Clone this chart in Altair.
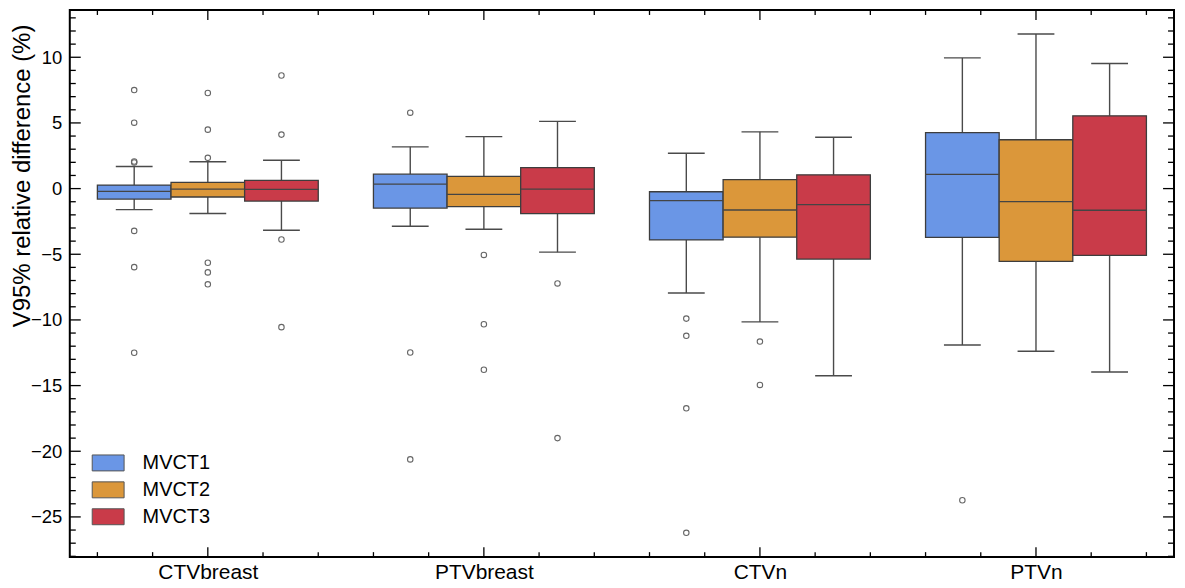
import altair as alt
import pandas as pd

# ---------------- data ----------------
categories = ["CTVbreast", "PTVbreast", "CTVn", "PTVn"]
groups = ["MVCT1", "MVCT2", "MVCT3"]
colors = ["#6A96E6", "#DB973A", "#C93B49"]

# one entry per box, order: category-major, then MVCT1..3
q1 = [-0.80, -0.64, -0.95,
      -1.48, -1.37, -1.90,
      -3.91, -3.70, -5.37,
      -3.72, -5.54, -5.09]
median = [-0.21, -0.04, -0.06,
          0.34, -0.44, -0.04,
          -0.92, -1.63, -1.22,
          1.08, -0.99, -1.65]
q3 = [0.27, 0.47, 0.62,
      1.10, 0.93, 1.59,
      -0.24, 0.68, 1.05,
      4.26, 3.72, 5.54]
whisker_lo = [-1.60, -1.90, -3.17,
              -2.87, -3.10, -4.84,
              -7.95, -10.15, -14.25,
              -11.91, -12.39, -13.96]
whisker_hi = [1.68, 2.04, 2.16,
              3.18, 3.96, 5.12,
              2.69, 4.32, 3.91,
              9.95, 11.77, 9.52]
outliers = [
    [7.50, 5.02, 2.06, 1.99, -3.22, -5.98, -12.50],
    [7.28, 4.49, 2.34, -5.65, -6.38, -7.29],
    [8.61, 4.11, -3.88, -10.55],
    [5.78, -12.48, -20.62],
    [-5.05, -10.33, -13.79],
    [-7.22, -19.00],
    [-9.90, -11.21, -16.73, -26.21],
    [-11.65, -14.95],
    [],
    [-23.73],
    [],
    [],
]

# tick positions for the framed axes
y_major = [-25, -20, -15, -10, -5, 0, 5, 10]
y_minor = [v for v in range(-28, 14) if v % 5 != 0]
x_major = [0, 1, 2, 3]
x_minor = [round(-0.4 + 0.2 * i, 1) for i in range(20) if i % 5 != 2]

# ---------------- layout ----------------
W, H = 1108, 549
STEP = 0.2667      # distance between boxes inside a group
HALF = STEP / 2    # half box width
CAP = STEP / 4     # half cap width
FONT = "Liberation Sans"

rows = []
for ci, cat in enumerate(categories):
    for gi, grp in enumerate(groups):
        k = ci * 3 + gi
        pos = ci + (gi - 1) * STEP
        rows.append(dict(category=cat, group=grp, pos=pos,
                         xl=pos - HALF, xr=pos + HALF,
                         cl=pos - CAP, cr=pos + CAP,
                         q1=q1[k], med=median[k], q3=q3[k],
                         lo=whisker_lo[k], hi=whisker_hi[k]))
boxes = pd.DataFrame(rows)

orows = []
for k, vals in enumerate(outliers):
    pos = boxes.loc[k, "pos"]
    for v in vals:
        orows.append(dict(pos=pos, v=v, group=boxes.loc[k, "group"]))
outs = pd.DataFrame(orows)

xscale = alt.Scale(domain=[-0.5, 3.5], nice=False, zero=False)
yscale = alt.Scale(domain=[-28.06, 13.60], nice=False, zero=False)

label_map = "[" + ",".join("'" + c + "'" for c in categories) + "][datum.value]"

x_axis = alt.Axis(values=x_major, labelExpr=label_map, ticks=False, tickSize=0,
                  domain=False, grid=False, title="", labelFontSize=21,
                  labelPadding=4, labelColor="black", labelFont=FONT,
                  labelOverlap=False, labelFlush=False)
y_axis = alt.Axis(values=y_major,
                  labelExpr="datum.value < 0 ? '\u2212' + format(-datum.value, 'd') : format(datum.value, 'd')",
                  ticks=False, tickSize=0, domain=False, grid=False,
                  labelFontSize=18.5, labelPadding=8, labelColor="black", labelFont=FONT,
                  title="V95% relative difference (%)", titleFontSize=24,
                  titleFontWeight="normal", titleColor="black", titleFont=FONT,
                  titleAngle=270, titleAlign="center", titleBaseline="middle",
                  titleX=-47, titleY=166)

def X(field):
    return alt.X(field, scale=xscale, axis=x_axis)

def Y(field):
    return alt.Y(field, scale=yscale, axis=y_axis)

LINE = "#4a4a4a"

base = alt.Chart(boxes)

whisk_up = base.mark_rule(color=LINE, strokeWidth=1.4).encode(
    x=X("pos:Q"), y=Y("q3:Q"), y2="hi:Q")
whisk_dn = base.mark_rule(color=LINE, strokeWidth=1.4).encode(
    x=X("pos:Q"), y=Y("lo:Q"), y2="q1:Q")
cap_hi = base.mark_rule(color=LINE, strokeWidth=1.4).encode(
    x=X("cl:Q"), x2="cr:Q", y=Y("hi:Q"))
cap_lo = base.mark_rule(color=LINE, strokeWidth=1.4).encode(
    x=X("cl:Q"), x2="cr:Q", y=Y("lo:Q"))

legend = alt.Legend(orient="none", legendX=22, legendY=438, title=None,
                    symbolType="M-1,-0.5H1V0.5H-1Z", symbolSize=1024,
                    symbolStrokeColor="#555555", symbolStrokeWidth=1,
                    symbolOpacity=1,
                    labelFontSize=20, labelFont=FONT, labelColor="black",
                    labelOffset=18, rowPadding=0, padding=0)

box = base.mark_bar(stroke="#3d3d3d", strokeWidth=1.3, opacity=1).encode(
    x=X("xl:Q"), x2="xr:Q",
    y=Y("q1:Q"), y2="q3:Q",
    color=alt.Color("group:N", scale=alt.Scale(domain=groups, range=colors),
                    legend=legend))

med = base.mark_rule(color="#444444", strokeWidth=1.4).encode(
    x=X("xl:Q"), x2="xr:Q", y=Y("med:Q"))

pts = alt.Chart(outs).mark_point(shape="circle", filled=False, size=30,
                                 color="#666666", strokeWidth=1.1, opacity=1).encode(
    x=X("pos:Q"), y=Y("v:Q"))

# frame ticks (inward), positioned through the scales
def yticks(vals, length):
    d = pd.DataFrame({"v": vals})
    left = alt.Chart(d).mark_rule(color="black", strokeWidth=1.3).encode(
        y=Y("v:Q"), x=alt.value(0), x2=alt.value(length))
    right = alt.Chart(d).mark_rule(color="black", strokeWidth=1.3).encode(
        y=Y("v:Q"), x=alt.value(W - length), x2=alt.value(W))
    return [left, right]

def xticks(vals, length):
    d = pd.DataFrame({"v": vals})
    top = alt.Chart(d).mark_rule(color="black", strokeWidth=1.3).encode(
        x=X("v:Q"), y=alt.value(0), y2=alt.value(length))
    bottom = alt.Chart(d).mark_rule(color="black", strokeWidth=1.3).encode(
        x=X("v:Q"), y=alt.value(H - length), y2=alt.value(H))
    return [top, bottom]

tick_layers = yticks(y_major, 11) + yticks(y_minor, 6) + xticks(x_major, 10) + xticks(x_minor, 5)

chart = alt.layer(
    whisk_up, whisk_dn, cap_hi, cap_lo, box, med, pts, *tick_layers
).properties(
    width=W, height=H,
    padding={"left": 62, "top": 1, "right": 3, "bottom": 28},
    autosize=alt.AutoSizeParams(type="none"),
).configure(
    font=FONT, background="white"
).configure_view(
    stroke="black", strokeWidth=2
)

chart.save("out.html", embed_options={"renderer": "svg", "actions": False})
